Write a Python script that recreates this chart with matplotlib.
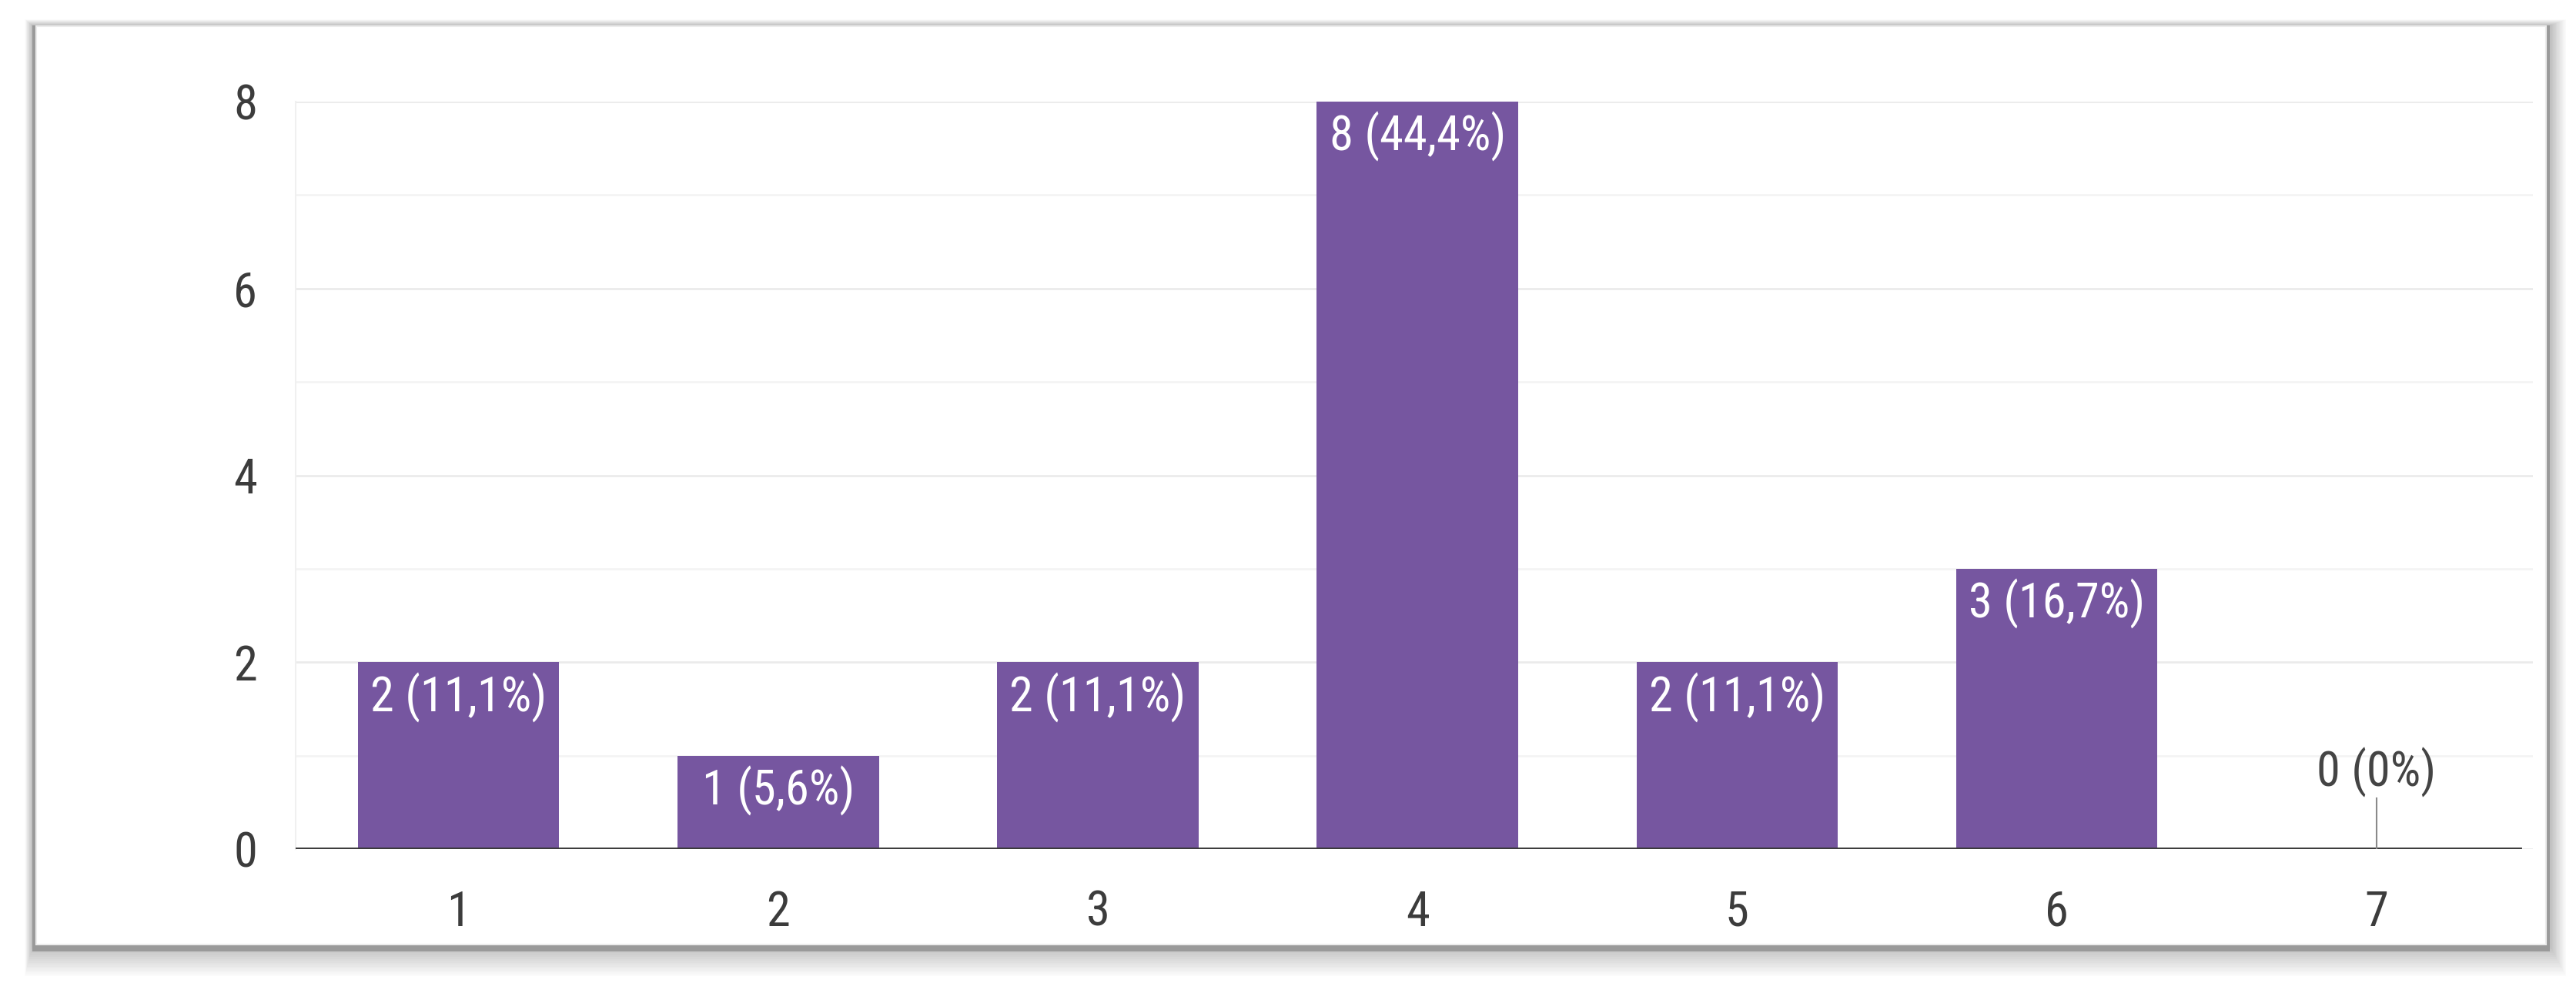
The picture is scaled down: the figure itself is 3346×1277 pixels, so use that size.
import matplotlib
matplotlib.use('Agg')
import matplotlib.pyplot as plt
from matplotlib.patches import Rectangle
from matplotlib.lines import Line2D

# Daten
kategorien = [1, 2, 3, 4, 5, 6, 7]
anzahl = [2, 1, 2, 8, 2, 3, 0]
beschriftung = ['2 (11,1%)', '1 (5,6%)', '2 (11,1%)', '8 (44,4%)', '2 (11,1%)', '3 (16,7%)', '0 (0%)']
y_ticks = [0, 2, 4, 6, 8]
y_minor = [1, 3, 5, 7]

plt.rcParams['font.family'] = ['Roboto Condensed', 'Roboto', 'DejaVu Sans']

W, H = 3346, 1277
fig = plt.figure(figsize=(W / 100, H / 100), dpi=100)
fig.patch.set_facecolor('white')

# Rahmen mit Schatten (Pixelkoordinaten -> Figurenanteile)
fx0, fx1, fy0, fy1 = 42, 3312, 33, 1228


def rect_px(x0, y0, x1, y1, **kw):
    return Rectangle((x0 / W, 1 - y1 / H), (x1 - x0) / W, (y1 - y0) / H,
                     transform=fig.transFigure, zorder=-5, **kw)


for i in range(16, 0, -1):
    fig.patches.append(rect_px(fx0 - i * 0.6, fy0 - i * 0.5, fx1 + i * 1.3, fy1 + i * 2.5,
                               facecolor='black', edgecolor='none', alpha=0.014))
fig.patches.append(rect_px(fx0, fy0, fx1, fy1 + 8, facecolor='#9a9a9a', edgecolor='none'))
fig.patches.append(rect_px(fx0 + 5, fy0 + 1, fx1 - 5, fy1, facecolor='white', edgecolor='none'))
fig.patches.append(rect_px(fx0 + 5, fy0 + 1, fx1 - 5, fy1 - 1, facecolor='none',
                           edgecolor='#ececec', linewidth=1.5))

# Diagramm
ax = fig.add_axes([384 / W, 1 - 1103 / H, (3290 - 384) / W, (1103 - 132) / H])
ax.set_facecolor('none')
farbe = '#7656a0'
ax.bar(kategorien, anzahl, width=0.63, color=farbe, zorder=3)

ax.set_xlim(0.49, 7.49)
ax.set_ylim(0, 8)
ax.set_yticks(y_ticks)
ax.set_yticks(y_minor, minor=True)
ax.set_xticks(kategorien)
ax.grid(axis='y', which='major', color='#ebebeb', linewidth=2, zorder=0)
ax.grid(axis='y', which='minor', color='#f4f4f4', linewidth=2, zorder=0)
for s in ['top', 'right', 'bottom']:
    ax.spines[s].set_visible(False)
ax.spines['left'].set_color('#f0f0f0')
ax.spines['left'].set_linewidth(1.5)
ax.tick_params(axis='both', which='both', length=0, labelsize=45, colors='#3c3c3c')
ax.tick_params(axis='y', pad=36)
ax.tick_params(axis='x', pad=38)
ax.axhline(0, xmin=0, xmax=0.994, color='#3a3a3a', linewidth=3.5, zorder=4)

# Balkenbeschriftungen
for x, wert, text in zip(kategorien, anzahl, beschriftung):
    if wert > 0:
        ax.annotate(text, (x, wert), xytext=(0, -33), textcoords='offset points',
                    ha='center', va='center', color='white', fontsize=45, zorder=5)
    else:
        ax.annotate(text, (x, wert), xytext=(0, 72), textcoords='offset points',
                    ha='center', va='center', color='#444444', fontsize=45, zorder=5)
        ax.add_line(Line2D([x, x], [0, 66 / ((1103 - 132) / 8)], color='#8a8a8a',
                           linewidth=1.5, zorder=5))

fig.savefig('out.png', dpi=100, facecolor='white')
